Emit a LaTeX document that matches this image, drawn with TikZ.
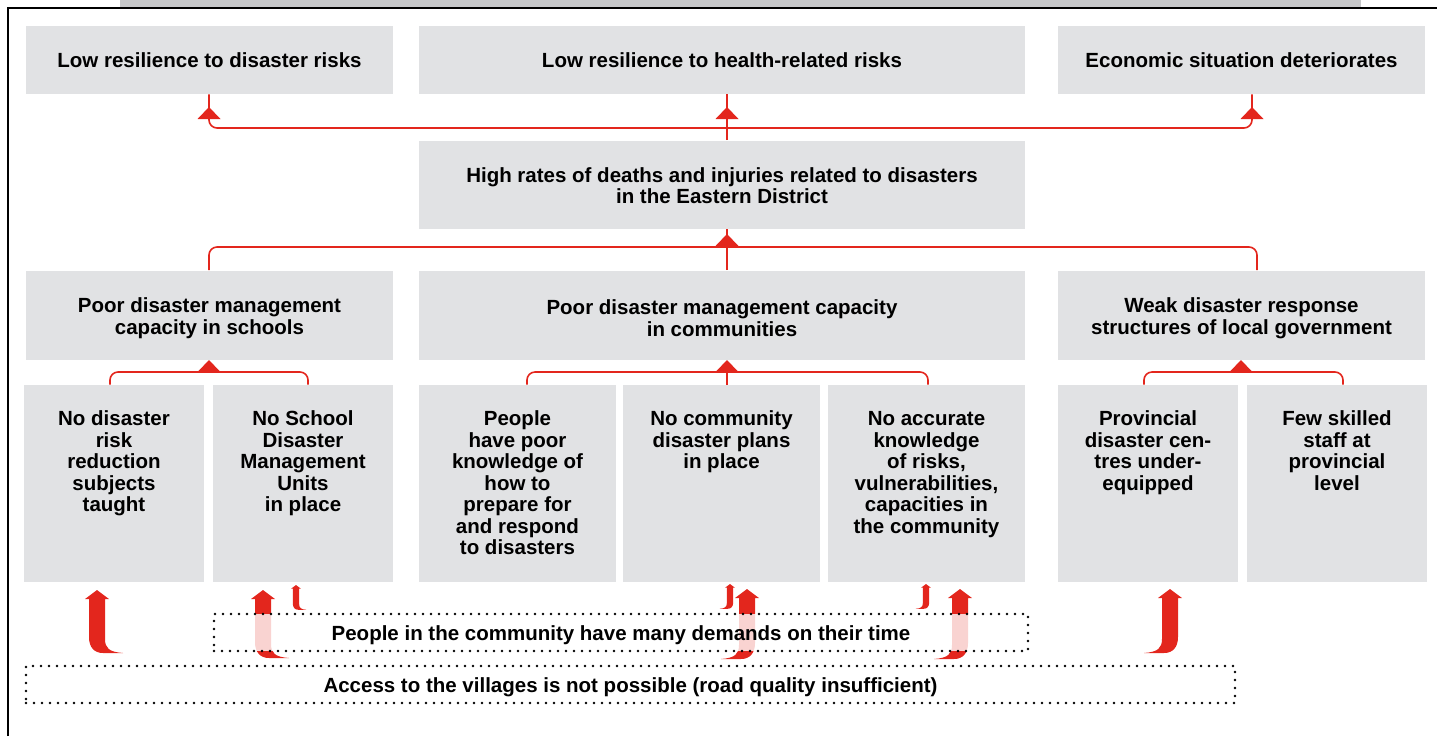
\documentclass[tikz,border=0pt]{standalone}
\usepackage{fontspec}
\setmainfont{Liberation Sans}
\usetikzlibrary{calc}

\definecolor{boxgray}{RGB}{225,226,228}
\definecolor{bargray}{RGB}{198,199,201}
\definecolor{linkred}{RGB}{227,38,29}

% small filled triangle sitting on a connector: x, base y
\newcommand\linktri[2]{\fill[linkred] ({#1-11.5},#2) -- (#1,{#2-12}) -- ({#1+11.5},#2) -- cycle;}

% bent block arrow: x of tip, y of tip, length, tail direction (+1/-1), scale
\newcommand\jarrow[5]{%
  \fill[linkred, shift={(#1,#2)}, xscale={#4*#5}, yscale=#5]
    (-8,9) -- (-12,9) -- (0,0) -- (12,9) -- (8,9) -- (8,{#3-14})
    .. controls (8,{#3-5}) and (12,{#3-1}) .. (26,#3)
    -- (6,#3) .. controls (-3,#3) and (-8,{#3-6}) .. (-8,{#3-16}) -- cycle;}

% text of the lower row, set from the top of its box
\newcommand\topbox[1]{\parbox[c][98.5pt][t]{90pt}{\centering\rule{0pt}{20.25pt}#1}}
% centred text block moved down inside its box (shift, width, text)
\newcommand\lowbox[3]{\raisebox{-#1}[\height][\depth]{\parbox{#2}{\centering #3}}}
% single line moved down inside its box
\newcommand\lowline[2]{\raisebox{-#1}[\height][\depth]{#2}}

\begin{document}
\begin{tikzpicture}[x=0.5pt,y=-0.5pt,
  box/.style={fill=boxgray, inner sep=0pt, align=center,
    font=\bfseries\fontsize{10.25}{10.75}\selectfont},
  sz/.style 2 args={minimum width=#1*0.5pt, minimum height=#2*0.5pt},
  link/.style={draw=linkred, line width=0.8pt, rounded corners=4pt},
  dotbox/.style={draw=black, line width=1.4pt, line cap=round,
    dash pattern=on 0pt off 4pt, inner sep=0pt,
    font=\bfseries\fontsize{10.25}{10.75}\selectfont}]
\useasboundingbox (0,0) rectangle (1437,736);

% header strip and frame
\fill[bargray] (120,0) rectangle (1361,8);
\draw[line width=0.75pt] (8,736) -- (8,8) -- (1437,8);

% effects
\node[box, sz={367}{68}] (r1a) at (209.5,60) {Low resilience to disaster risks};
\node[box, sz={606}{68}] (r1b) at (722,60) {Low resilience to health-related risks};
\node[box, sz={367}{68}] (r1c) at (1241.5,60) {Economic situation deteriorates};

% core problem
\node[box, sz={606}{88}] (r2) at (722,184.5) {\lowbox{0.5pt}{290pt}{High rates of deaths and injuries related to disasters\\in the Eastern District}};

% causes
\node[box, sz={367}{89}] (r3a) at (209.5,315) {\lowbox{1.5pt}{178pt}{Poor disaster management\\capacity in schools}};
\node[box, sz={606}{89}] (r3b) at (722,315) {\lowbox{1.5pt}{290pt}{Poor disaster management capacity\\in communities}};
\node[box, sz={367}{89}] (r3c) at (1241.5,315) {\lowbox{1.5pt}{178pt}{Weak disaster response\\structures of local government}};

% sub-causes
\node[box, sz={180}{197}] (a1) at (114,483.5) {\topbox{No disaster\\risk\\reduction\\subjects\\taught}};
\node[box, sz={180}{197}] (a2) at (303,483.5) {\topbox{No School\\Disaster\\Management\\Units\\in place}};
\node[box, sz={197}{197}] (b1) at (517.5,483.5) {\topbox{People\\have poor\\knowledge of\\how to\\prepare for\\and respond\\to disasters}};
\node[box, sz={197}{197}] (b2) at (721.5,483.5) {\topbox{No community\\disaster plans\\in place}};
\node[box, sz={197}{197}] (b3) at (926.5,483.5) {\topbox{No accurate\\knowledge\\of risks,\\vulnerabilities,\\capacities in\\the community}};
\node[box, sz={180}{197}] (c1) at (1148,483.5) {\topbox{Provincial\\disaster cen-\\tres under-\\equipped}};
\node[box, sz={180}{197}] (c2) at (1337,483.5) {\topbox{Few skilled\\staff at\\provincial\\level}};

% core problem -> effects
\coordinate (ta) at (209,128);
\coordinate (tm) at (727,128);
\coordinate (tc) at (1252,128);
\draw[link] (r1a.south -| ta) -- (ta) -- (tc) -- (r1c.south -| tc);
\draw[link] (r2.north -| tm) -- (r1b.south -| tm);
\linktri{209}{119}
\linktri{727}{119}
\linktri{1252}{119}

% causes -> core problem
\coordinate (ma) at (209,247);
\coordinate (mm) at (727,247);
\coordinate (mc) at (1257,247);
\draw[link] (r3a.north -| ma) -- (ma) -- (mc) -- (r3c.north -| mc);
\draw[link] (r3b.north -| mm) -- (r2.south -| mm);
\linktri{727}{246}

% sub-causes -> causes
\coordinate (la) at (110,372);
\coordinate (ra) at (308,372);
\draw[link] (a1.north -| la) -- (la) -- (ra) -- (a2.north -| ra);
\linktri{209}{372}
\coordinate (lb) at (527,372);
\coordinate (mb) at (727,372);
\coordinate (rb) at (928,372);
\draw[link] (b1.north -| lb) -- (lb) -- (rb) -- (b3.north -| rb);
\draw[link] (b2.north -| mb) -- (mb);
\linktri{727}{372}
\coordinate (lc) at (1144,372);
\coordinate (rc) at (1343,372);
\draw[link] (c1.north -| lc) -- (lc) -- (rc) -- (c2.north -| rc);
\linktri{1241}{372}

% bent arrows from the constraints
\jarrow{97}{590}{63}{1}{1}
\jarrow{263}{590}{68}{1}{1}
\jarrow{296}{585}{62}{1}{0.4}
\jarrow{730}{584}{62}{-1}{0.4}
\jarrow{747}{589}{70}{-1}{1}
\jarrow{926}{584}{62}{-1}{0.4}
\jarrow{960}{589}{70}{-1}{1}
\jarrow{1170}{589}{64}{-1}{1}

% constraints
\node[dotbox, sz={814}{37}, fill=white, fill opacity=0.8, text opacity=1] (dem) at (621,632.5) {\lowline{1.5pt}{People in the community have many demands on their time}};
\node[dotbox, sz={1209}{37}] (acc) at (630.5,684.5) {\lowline{1.5pt}{Access to the villages is not possible (road quality insufficient)}};
\end{tikzpicture}
\end{document}
